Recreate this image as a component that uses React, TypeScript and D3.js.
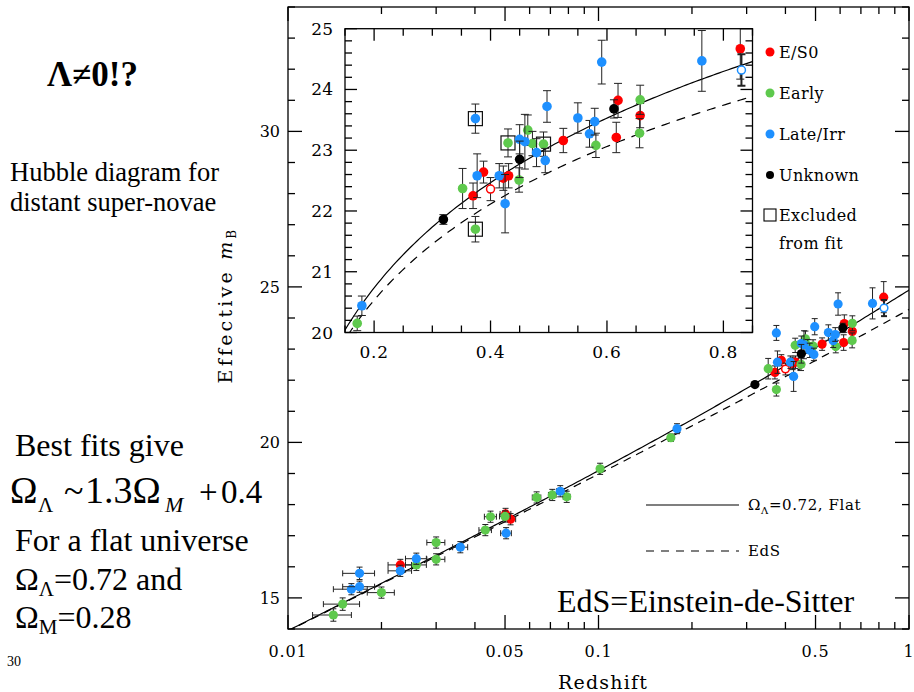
import React from "react";
import * as d3 from "d3";

// ---- Data: supernova Hubble diagram (redshift, effective m_B, 1-sigma error) ----
// Host-galaxy classes and their marker colours
const hostTypes = ["E/S0", "Early", "Late/Irr", "Unknown"];
const hostColors = ["#ff0000", "#5ec94d", "#1e90ff", "#000000"];

// flag: "x" = excluded from fit (boxed), "o" = open symbol
type SN = [number, number, number, string?];

// High-redshift supernovae
const highZ_ES0: SN[] = [
  [0.37, 22.25, 0.21], [0.388, 22.64, 0.18], [0.4, 22.36, 0.19, "o"], [0.422, 22.54, 0.2],
  [0.431, 22.58, 0.2], [0.525, 23.16, 0.2], [0.616, 23.21, 0.25], [0.619, 23.82, 0.28],
  [0.657, 23.57, 0.2], [0.829, 24.67, 0.5],
];
const highZ_Early: SN[] = [
  [0.171, 20.15, 0.12], [0.352, 22.37, 0.33], [0.374, 21.7, 0.21, "x"], [0.43, 23.12, 0.23, "x"],
  [0.449, 22.51, 0.2], [0.464, 23.33, 0.25], [0.472, 23.11, 0.2], [0.491, 23.1, 0.2, "x"],
  [0.581, 23.08, 0.2], [0.656, 23.28, 0.24], [0.657, 23.83, 0.24],
];
const highZ_Late: SN[] = [
  [0.179, 20.44, 0.16], [0.374, 23.52, 0.24, "x"], [0.377, 22.58, 0.36], [0.415, 22.58, 0.2],
  [0.425, 22.12, 0.48], [0.45, 23.18, 0.24], [0.459, 23.14, 0.45], [0.479, 22.96, 0.23],
  [0.494, 22.83, 0.2], [0.497, 23.72, 0.26], [0.55, 23.53, 0.25], [0.57, 23.27, 0.22],
  [0.579, 23.47, 0.22], [0.591, 24.45, 0.36], [0.763, 24.47, 0.5], [0.831, 24.32, 0.26, "o"],
];
const highZ_Unknown: SN[] = [[0.319, 21.86, 0.08], [0.45, 22.85, 0.3], [0.612, 23.68, 0.15]];

// Low-redshift (Calan/Tololo) supernovae
const lowZ_ES0: SN[] = [[0.023, 16.06, 0.18], [0.0502, 17.7, 0.18], [0.0521, 17.53, 0.18]];
const lowZ_Early: SN[] = [
  [0.014, 14.45, 0.2], [0.015, 14.8, 0.2], [0.02, 15.17, 0.18], [0.0259, 16.06, 0.18],
  [0.03, 16.78, 0.18], [0.03, 16.24, 0.18], [0.0432, 17.18, 0.18], [0.0449, 17.61, 0.18],
  [0.05, 17.62, 0.18], [0.0632, 18.23, 0.18], [0.071, 18.31, 0.18], [0.079, 18.25, 0.18],
  [0.1012, 19.15, 0.18],
];
const lowZ_Late: SN[] = [
  [0.016, 15.28, 0.18], [0.017, 15.36, 0.18], [0.017, 15.79, 0.2], [0.023, 15.87, 0.18],
  [0.0259, 16.26, 0.18], [0.0359, 16.63, 0.18], [0.0504, 17.08, 0.18], [0.0753, 18.43, 0.18],
];
const lowZ_redshiftErr = 0.002;

const highZ = [highZ_ES0, highZ_Early, highZ_Late, highZ_Unknown];
const lowZ = [lowZ_ES0, lowZ_Early, lowZ_Late, []];

// Axis ticks
const mainYTicks = [15, 20, 25, 30];
const mainXTicks = [0.01, 0.05, 0.1, 0.5, 1];
const mainXTickLabels = ["0.01", "0.05", "0.1", "0.5", "1"];
const insetXTicks = [0.2, 0.4, 0.6, 0.8];
const insetYTicks = [20, 21, 22, 23, 24, 25];

// Cosmological models
const flatOmegaL = 0.72;
const flatOmegaM = 0.28;
const edsOmegaM = 1.0;
const scriptM = 23.93; // absolute-magnitude / H0 zero point

function lumDistance(z: number, om: number, ol: number) {
  const ok = 1 - om - ol;
  const E = (x: number) => 1 / Math.sqrt(om * (1 + x) ** 3 + ok * (1 + x) ** 2 + ol);
  const n = 60;
  const h = z / n;
  let s = E(0) + E(z);
  for (let i = 1; i < n; i++) s += (i % 2 ? 4 : 2) * E(i * h);
  return (1 + z) * (s * h) / 3;
}
const magFlat = (z: number) => scriptM + 5 * Math.log10(lumDistance(z, flatOmegaM, flatOmegaL));
const magEdS = (z: number) => scriptM + 5 * Math.log10(lumDistance(z, edsOmegaM, 0));

// ---- Layout ----
const W = 914;
const H = 692;
const main = { l: 288, r: 909, t: 7, b: 629 };
const inset = { l: 345, r: 752.5, t: 28.7, b: 332.5 };

const mx = d3.scaleLog().domain([0.01, 1]).range([main.l, main.r]);
const my = d3.scaleLinear().domain([14, 34]).range([main.b, main.t]);
const ix = d3.scaleLinear().domain([0.15, 0.85]).range([inset.l, inset.r]);
const iy = d3.scaleLinear().domain([20, 25]).range([inset.b, inset.t]);

const plotFont = { fontFamily: "'DejaVu Serif', serif" };
const textFont = { fontFamily: "'Liberation Serif', 'Times New Roman', Times, serif" };

function ErrorBarsAndPoints({ sets, xs, ys, r, cap, zerr, boxes }: any) {
  return (
    <g>
      {sets.map((set: SN[], k: number) =>
        set.map(([z, m, e, f], i) => {
          const cx = xs(z);
          const cy = ys(m);
          const y0 = ys(m - e);
          const y1 = ys(m + e);
          const col = hostColors[k];
          const bold = f === "o" && k === 2;
          return (
            <g key={`${k}-${i}`}>
              <g stroke="#222" strokeWidth={bold ? 2 : 1}>
                <line x1={cx} x2={cx} y1={y0} y2={y1} />
                <line x1={cx - cap} x2={cx + cap} y1={y0} y2={y0} />
                <line x1={cx - cap} x2={cx + cap} y1={y1} y2={y1} />
                {zerr ? (
                  <>
                    <line x1={xs(z - zerr)} x2={xs(z + zerr)} y1={cy} y2={cy} />
                    <line x1={xs(z - zerr)} x2={xs(z - zerr)} y1={cy - cap} y2={cy + cap} />
                    <line x1={xs(z + zerr)} x2={xs(z + zerr)} y1={cy - cap} y2={cy + cap} />
                  </>
                ) : null}
              </g>
              {f === "o" ? (
                <circle cx={cx} cy={cy} r={r - 0.8} fill="#fff" stroke={col} strokeWidth={1.5} />
              ) : (
                <circle cx={cx} cy={cy} r={r} fill={col} />
              )}
              {boxes && f === "x" ? (
                <rect x={cx - 7} y={cy - 7} width={14} height={14} fill="none" stroke="#111" strokeWidth={1.2} />
              ) : null}
            </g>
          );
        })
      )}
    </g>
  );
}

export default function App() {
  // sampled model curves
  const mainZ = d3.range(0, 241).map((i) => 0.009 * Math.pow(10, (i / 240) * 2.06));
  const insetZ = d3.range(0, 141).map((i) => 0.14 + (i / 140) * 0.72);
  const lineMain = (f: (z: number) => number) =>
    d3.line<number>().x((z) => mx(z)).y((z) => my(f(z)))(mainZ) || "";
  const lineInset = (f: (z: number) => number) =>
    d3.line<number>().x((z) => ix(z)).y((z) => iy(f(z)))(insetZ) || "";

  // minor ticks
  const xMinor: number[] = [];
  [0.01, 0.1].forEach((d) => d3.range(1, 10).forEach((k) => xMinor.push(k * d)));
  xMinor.push(1);
  const yMinor = d3.range(14, 35);
  const ixMinor = d3.range(0.15, 0.851, 0.05);
  const iyMinor = d3.range(20, 25.001, 0.2);

  const legendY = [52, 93, 134, 175];

  return (
    <svg width={W} height={H} style={{ position: "absolute", left: 0, top: 0, background: "#fff" }}>
      <defs>
        <clipPath id="mainClip">
          <rect x={main.l} y={main.t} width={main.r - main.l} height={main.b - main.t} />
        </clipPath>
        <clipPath id="insetClip">
          <rect x={inset.l} y={inset.t} width={inset.r - inset.l} height={inset.b - inset.t} />
        </clipPath>
      </defs>
      <rect width={W} height={H} fill="#fff" />

      {/* ---- left-hand notes ---- */}
      <g style={textFont} fill="#000">
        <text x={47} y={86} fontSize={35} fontWeight="bold">Λ≠0!?</text>
        <text x={10} y={181} fontSize={26.5}>Hubble diagram for</text>
        <text x={10} y={211} fontSize={26.5}>distant super-novae</text>
        <text x={15} y={456} fontSize={32}>Best fits give</text>
        <text x={10} y={503} fontSize={37}>Ω</text>
        <text x={38} y={512} fontSize={21}>Λ</text>
        <text x={64} y={503} fontSize={36}>~</text>
        <text x={85} y={503} fontSize={38}>1.3Ω</text>
        <text x={165} y={512} fontSize={22} fontStyle="italic">M</text>
        <text x={199} y={503} fontSize={33}>+</text>
        <text x={221} y={503} fontSize={33}>0.4</text>
        <text x={15} y={551} fontSize={32}>For a flat universe</text>
        <text x={15} y={590} fontSize={32}>
          Ω<tspan fontSize={21} dy={6}>Λ</tspan><tspan dy={-6}>=0.72 and</tspan>
        </text>
        <text x={15} y={628} fontSize={32}>
          Ω<tspan fontSize={21} dy={6}>M</tspan><tspan dy={-6}>=0.28</tspan>
        </text>
        <text x={7} y={666} fontSize={14}>30</text>
      </g>

      {/* ---- main panel ---- */}
      <g clipPath="url(#mainClip)" fill="none" stroke="#000" strokeWidth={1.2}>
        <path d={lineMain(magFlat)} />
        <path d={lineMain(magEdS)} strokeDasharray="8 6" />
      </g>
      <g clipPath="url(#mainClip)">
        <ErrorBarsAndPoints sets={lowZ} xs={mx} ys={my} r={4.6} cap={3} zerr={lowZ_redshiftErr} />
        <ErrorBarsAndPoints sets={highZ} xs={mx} ys={my} r={4.6} cap={3} />
      </g>

      {/* main frame and ticks */}
      <g stroke="#000" strokeWidth={1.3}>
        <rect x={main.l} y={main.t} width={main.r - main.l} height={main.b - main.t} fill="none" />
        {yMinor.map((v) => {
          const len = v % 5 === 0 ? 14 : 7;
          return (
            <g key={`my${v}`}>
              <line x1={main.l} x2={main.l + len} y1={my(v)} y2={my(v)} />
              <line x1={main.r} x2={main.r - len} y1={my(v)} y2={my(v)} />
            </g>
          );
        })}
        {xMinor.map((v) => {
          const len = mainXTicks.some((t) => Math.abs(t - v) < 1e-9) ? 14 : 7;
          return (
            <g key={`mx${v}`}>
              <line x1={mx(v)} x2={mx(v)} y1={main.b} y2={main.b - len} />
              <line x1={mx(v)} x2={mx(v)} y1={main.t} y2={main.t + len} />
            </g>
          );
        })}
      </g>
      <g style={plotFont} fontSize={16} fill="#000">
        {mainYTicks.map((v) => (
          <text key={`ly${v}`} x={280} y={my(v) + 6} textAnchor="end">{v}</text>
        ))}
        {mainXTicks.map((v, i) => (
          <text key={`lx${v}`} x={mx(v)} y={657} textAnchor="middle" letterSpacing={0.8}>{mainXTickLabels[i]}</text>
        ))}
      </g>
      <text x={603} y={689} textAnchor="middle" style={plotFont} fontSize={19} letterSpacing={1.2}>
        Redshift
      </text>
      <text
        transform="translate(232,305) rotate(-90)"
        textAnchor="middle"
        style={plotFont}
        fontSize={19}
        letterSpacing={3.2}
      >
        Effective <tspan fontStyle="italic">m</tspan>
        <tspan fontSize={12} dy={4}>B</tspan>
      </text>

      {/* model legend */}
      <g stroke="#000" strokeWidth={1.1}>
        <line x1={646} x2={739} y1={505} y2={505} />
        <line x1={646} x2={739} y1={551} y2={551} strokeDasharray="8 7" />
      </g>
      <g style={plotFont} fontSize={15} fill="#000" letterSpacing={0.6}>
        <text x={748} y={510}>
          Ω<tspan fontSize={10} dy={4}>Λ</tspan>
          <tspan dy={-4}>=0.72,  Flat</tspan>
        </text>
        <text x={748} y={556}>EdS</text>
      </g>
      <text x={557} y={612} style={textFont} fontSize={32}>EdS=Einstein-de-Sitter</text>

      {/* ---- inset panel ---- */}
      <rect x={inset.l} y={inset.t} width={inset.r - inset.l} height={inset.b - inset.t} fill="#fff" />
      <g clipPath="url(#insetClip)" fill="none" stroke="#000" strokeWidth={1.2}>
        <path d={lineInset(magFlat)} />
        <path d={lineInset(magEdS)} strokeDasharray="9 7" />
      </g>
      <g clipPath="url(#insetClip)">
        <ErrorBarsAndPoints sets={highZ} xs={ix} ys={iy} r={4.8} cap={4} boxes />
      </g>
      <g stroke="#000" strokeWidth={1.3}>
        <rect x={inset.l} y={inset.t} width={inset.r - inset.l} height={inset.b - inset.t} fill="none" />
        {ixMinor.map((v) => {
          const major = insetXTicks.some((t) => Math.abs(t - v) < 1e-6);
          const len = major ? 12 : 7;
          return (
            <g key={`ix${v}`}>
              <line x1={ix(v)} x2={ix(v)} y1={inset.b} y2={inset.b - len} />
              <line x1={ix(v)} x2={ix(v)} y1={inset.t} y2={inset.t + len} />
            </g>
          );
        })}
        {iyMinor.map((v) => {
          const major = Math.abs(v - Math.round(v)) < 1e-6;
          const len = major ? 12 : 7;
          return (
            <g key={`iy${v}`}>
              <line x1={inset.l} x2={inset.l + len} y1={iy(v)} y2={iy(v)} />
              <line x1={inset.r} x2={inset.r - len} y1={iy(v)} y2={iy(v)} />
            </g>
          );
        })}
      </g>
      <g style={plotFont} fontSize={17} fill="#000">
        {insetYTicks.map((v) => (
          <text key={`iyl${v}`} x={333} y={iy(v) + 6} textAnchor="end">{v}</text>
        ))}
        {insetXTicks.map((v) => (
          <text key={`ixl${v}`} x={ix(v)} y={358} textAnchor="middle" letterSpacing={0.8}>{v.toFixed(1)}</text>
        ))}
      </g>

      {/* host-type legend */}
      <g style={plotFont} fontSize={16} fill="#000" letterSpacing={0.4}>
        {hostTypes.map((t, i) => (
          <g key={t}>
            <circle cx={770} cy={legendY[i]} r={i === 3 ? 4 : 4.5} fill={hostColors[i]} />
            <text x={779} y={legendY[i] + 6}>{t}</text>
          </g>
        ))}
        <rect x={764} y={209} width={12} height={12} fill="none" stroke="#000" strokeWidth={1.1} />
        <text x={779} y={221}>Excluded</text>
        <text x={779} y={249}>from fit</text>
      </g>
    </svg>
  );
}
